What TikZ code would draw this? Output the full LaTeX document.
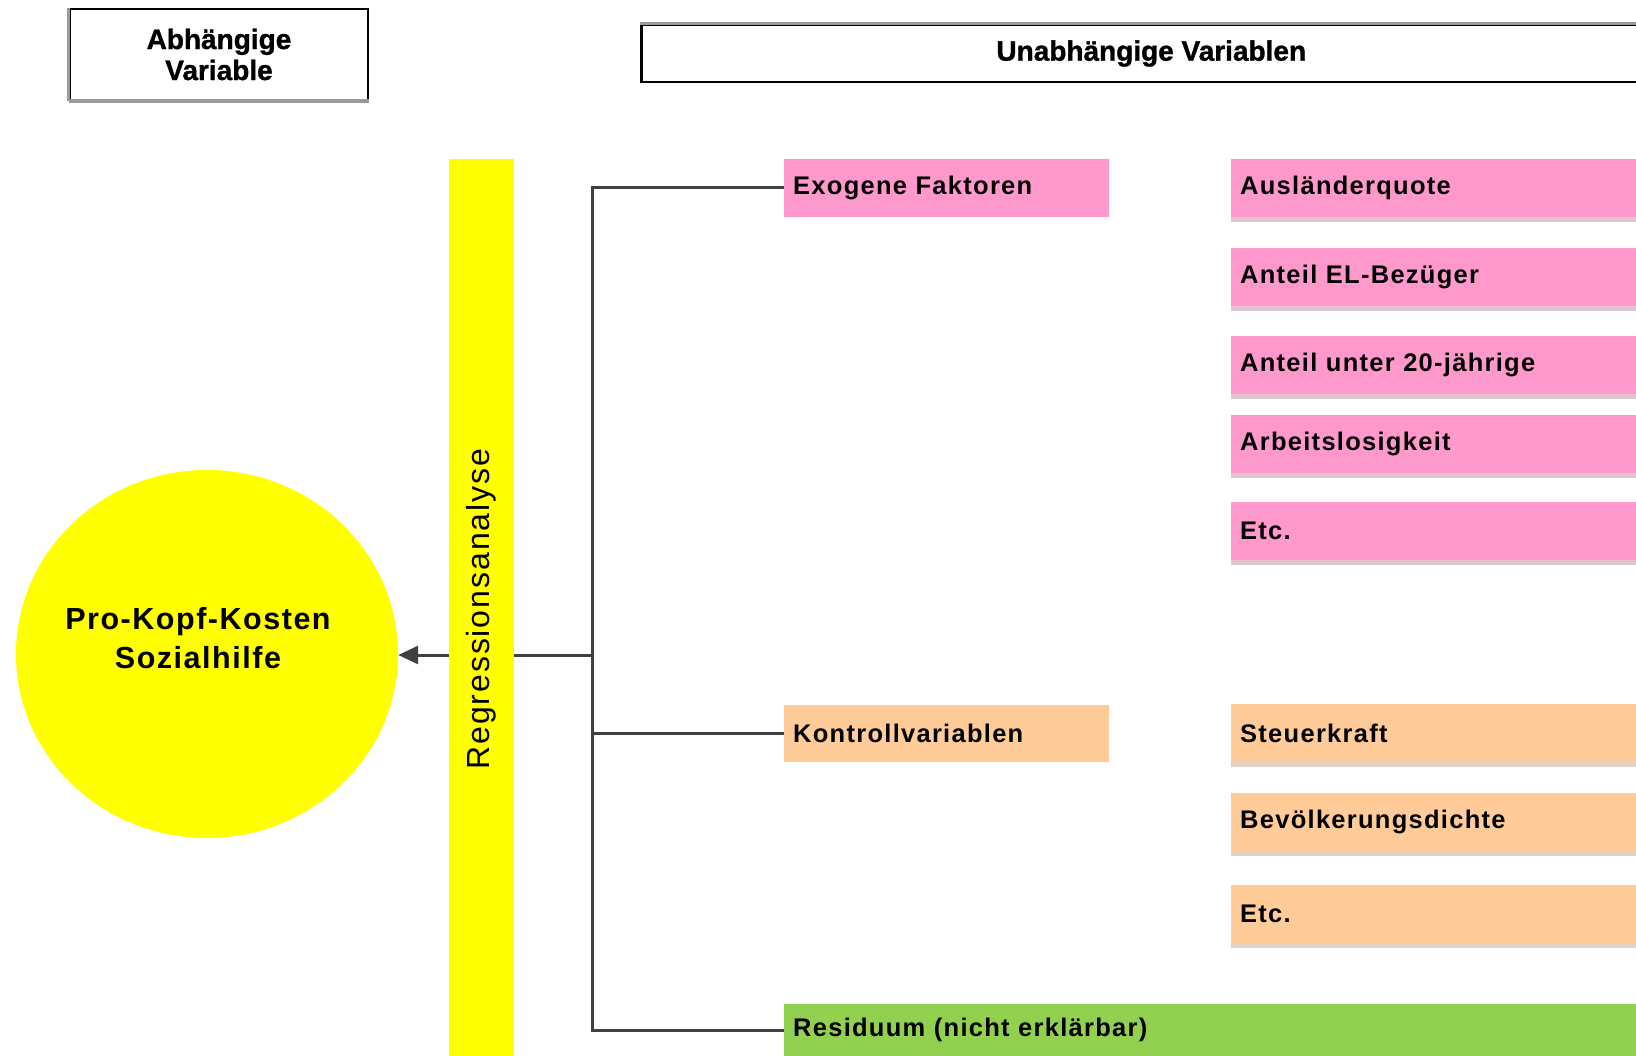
\documentclass[tikz,border=0pt]{standalone}
\usepackage{fontspec}
\setmainfont{Liberation Sans}
\newfontfamily\spacedfont[LetterSpace=5]{Liberation Sans}
\newfontfamily\widefont[LetterSpace=6]{Liberation Sans}
\newfontfamily\heavyfont[FakeBold=1.2]{Liberation Sans Bold}
\usetikzlibrary{shapes.geometric,shadows,arrows.meta}
\definecolor{regyellow}{RGB}{255,255,0}
\definecolor{exopink}{HTML}{FF99CC}
\definecolor{ctrlorange}{HTML}{FFCC99}
\definecolor{resgreen}{HTML}{92D050}
\definecolor{pinkshade}{HTML}{E0C4CE}
\definecolor{orangeshade}{HTML}{E0D2C6}
\definecolor{linegray}{HTML}{404040}
\definecolor{framegray}{HTML}{9A9A9A}
\begin{document}
\begin{tikzpicture}[x=1pt,y=-1pt,
    lab/.style={anchor=west,minimum height=58pt,text width=#1,inner xsep=9pt,
      inner ysep=0pt,align=left,font=\spacedfont\bfseries\fontsize{25.5}{30}\selectfont},
    pinkvar/.style={lab=412pt,fill=exopink,
      drop shadow={shadow xshift=0pt,shadow yshift=-5pt,fill=pinkshade,opacity=1}},
    orangevar/.style={lab=412pt,fill=ctrlorange,
      drop shadow={shadow xshift=0pt,shadow yshift=-5pt,fill=orangeshade,opacity=1}},
    head/.style={draw=black,line width=2.5pt,align=center,
      font=\heavyfont\fontsize{28}{31}\selectfont},
    conn/.style={draw=linegray,line width=3pt}]
  \path[use as bounding box] (0,0) rectangle (1636,1056);
  \clip (0,0) rectangle (1636,1056);

  % headings
  \node[head,minimum width=298pt,minimum height=91pt] (dep) at (219,54.5) {Abhängige\\Variable};
  \draw[framegray,line width=3pt] (dep.north west) -- (dep.south west);
  \draw[framegray,line width=4pt] (dep.south west) -- (dep.south east);
  \node[head,anchor=west,minimum width=1020pt,minimum height=57pt] (indep) at (640,53.5) {Unabhängige Variablen};
  \draw[framegray,line width=3pt] (indep.north west) -- (indep.north east);

  % dependent variable and regression
  \node[ellipse,fill=regyellow,minimum width=382pt,minimum height=368pt] (circ) at (207,654) {};
  \node[align=center,font=\spacedfont\bfseries\fontsize{30.5}{39}\selectfont] (cost) at (198,638) {Pro-Kopf-Kosten\\Sozialhilfe};
  \node[fill=regyellow,anchor=north west,minimum width=65pt,minimum height=900pt,inner sep=0pt] (bar) at (449,159) {};
  \node[rotate=90,font=\widefont\fontsize{32}{36}\selectfont] (reg) at (bar.center) {Regressionsanalyse};

  % groups
  \node[lab=307pt,fill=exopink] (exo) at (784,188) {Exogene Faktoren};
  \node[lab=307pt,fill=ctrlorange,minimum height=57pt] (ctl) at (784,733) {Kontrollvariablen};
  \node[lab=858pt,fill=resgreen,minimum height=52pt] (res) at (784,1030) {Residuum (nicht erklärbar)};

  % variables
  \node[pinkvar] (v1) at (1231,188) {Ausländerquote};
  \node[pinkvar] (v2) at (1231,277) {Anteil EL-Bezüger};
  \node[pinkvar] (v3) at (1231,365) {Anteil unter 20-jährige};
  \node[pinkvar] (v4) at (1231,444) {Arbeitslosigkeit};
  \node[pinkvar] (v5) at (1231,531) {Etc.};
  \node[orangevar] (k1) at (1231,733) {Steuerkraft};
  \node[orangevar] (k2) at (1231,822) {Bevölkerungsdichte};
  \node[orangevar] (k3) at (1231,914) {Etc.};

  % connectors
  \coordinate (hub) at (592,655);
  \draw[conn] (exo.west) -| (hub) |- (res.west);
  \draw[conn] (ctl.west) -- (ctl.west -| hub);
  \draw[conn] (bar.east |- hub) -- (hub);
  \draw[conn,-{Triangle[length=20pt,width=18pt]}] (bar.west |- hub) -- (circ.east |- hub);
\end{tikzpicture}
\end{document}
